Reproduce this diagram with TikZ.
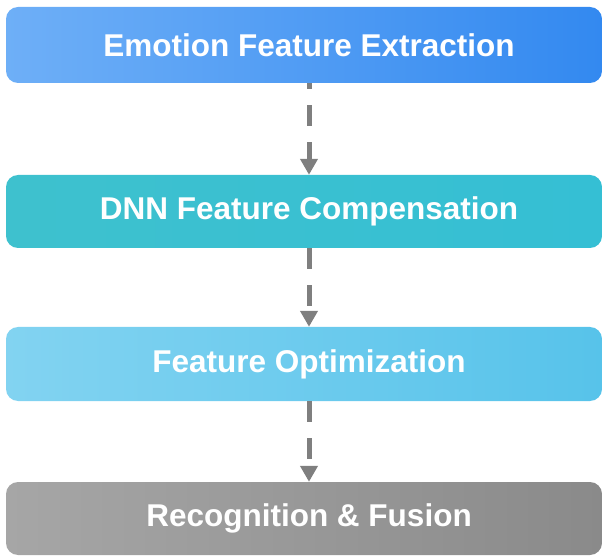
\documentclass[tikz,border=0pt]{standalone}
\usepackage{fontspec}
\setmainfont{Liberation Sans}
\usetikzlibrary{arrows.meta}

\definecolor{extractL}{HTML}{6EAFF7}
\definecolor{extractR}{HTML}{3389F0}
\definecolor{dnnL}{HTML}{3EC1CE}
\definecolor{dnnR}{HTML}{35BFD4}
\definecolor{optL}{HTML}{82D3F1}
\definecolor{optR}{HTML}{57C3EA}
\definecolor{fuseL}{HTML}{A6A6A6}
\definecolor{fuseR}{HTML}{8A8A8A}
\definecolor{flowgray}{HTML}{7F7F7F}

\tikzset{
	stage/.style={shape=rectangle, rounded corners=12pt, minimum width=596pt, minimum height=74pt,
		text=white, font=\bfseries\fontsize{31.5}{36}\selectfont},
	flow/.style={draw=flowgray, line width=5pt, dash pattern=on 21pt off 16pt,
		-{Triangle[width=17pt,length=16pt]}}
}
% text sits a little right of the box centre
\newcommand{\stagetext}[1]{\hspace*{10pt}#1}

\begin{document}
\begin{tikzpicture}[x=1pt,y=-1pt]
	\useasboundingbox (0,0) rectangle (603,556);

	\draw (304,45) node[stage, minimum height=76pt, left color=extractL, right color=extractR](extract){\stagetext{Emotion Feature Extraction}};
	\draw (304,211.5) node[stage, minimum height=73pt, left color=dnnL, right color=dnnR](dnn){\stagetext{DNN Feature Compensation}};
	\draw (304,364) node[stage, left color=optL, right color=optR](optim){\stagetext{Feature Optimization}};
	\draw (304,518.5) node[stage, minimum height=73pt, left color=fuseL, right color=fuseR](fusion){\stagetext{Recognition \& Fusion}};

	\draw [flow, dash phase=15pt]([xshift=5pt]extract.south) -- ([xshift=5pt]dnn.north);
	\draw [flow]([xshift=5pt]dnn.south) -- ([xshift=5pt]optim.north);
	\draw [flow]([xshift=5pt]optim.south) -- ([xshift=5pt]fusion.north);
\end{tikzpicture}
\end{document}
